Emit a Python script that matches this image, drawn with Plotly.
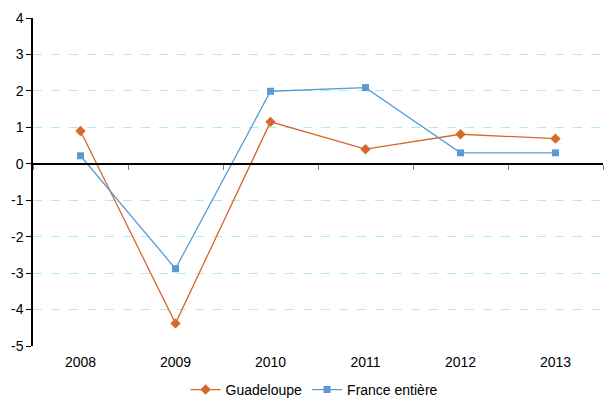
import plotly.graph_objects as go

years = ["2008", "2009", "2010", "2011", "2012", "2013"]
guadeloupe = [0.9, -4.38, 1.15, 0.4, 0.81, 0.69]
france = [0.22, -2.88, 1.99, 2.09, 0.3, 0.3]
y_ticks = [4, 3, 2, 1, 0, -1, -2, -3, -4, -5]
y_tick_text = ["4", "3", "2", "1", "0", "-1", "-2", "-3", "-4", "-5"]

orange = "#D4692A"
blue = "#5B9BD5"

fig = go.Figure()
fig.add_trace(go.Scatter(x=years, y=guadeloupe, name="Guadeloupe", mode="lines+markers",
                         line=dict(color=orange, width=1.3),
                         marker=dict(symbol="diamond", size=8, color=orange)))
fig.add_trace(go.Scatter(x=years, y=france, name="France entière", mode="lines+markers",
                         line=dict(color=blue, width=1.3),
                         marker=dict(symbol="square", size=7, color=blue)))
# helper invisible trace to draw the zero-line axis with tick marks
fig.add_trace(go.Scatter(x=years, y=[None]*len(years), xaxis="x2", showlegend=False, hoverinfo="skip"))

fig.update_layout(
    width=604, height=398,
    margin=dict(l=33, r=1, t=18, b=52, autoexpand=False),
    paper_bgcolor="white", plot_bgcolor="white",
    font=dict(family="Liberation Sans, Arial, sans-serif", size=14, color="#000"),
    showlegend=True,
    legend=dict(orientation="h", x=0.52, xanchor="center", xref="container",
                y=-0.134, yanchor="middle", yref="paper",
                font=dict(size=14), tracegroupgap=0),
    xaxis=dict(type="category", showgrid=False, showline=False, ticks="",
               zeroline=False, tickfont=dict(size=14), range=[-0.5, 5.5],
               ticklabelstandoff=6),
    xaxis2=dict(type="category", overlaying="x", anchor="free", position=5/9,
                showline=True, linecolor="#000", linewidth=1.5, ticks="outside",
                tickson="boundaries", ticklen=5, tickcolor="#808080", showticklabels=False,
                showgrid=False, zeroline=False, range=[-0.5, 5.5], side="bottom"),
    yaxis=dict(range=[-5, 4], tickvals=y_ticks, ticktext=y_tick_text, showline=True,
               linecolor="#000", linewidth=1.5,
               ticks="outside", ticklen=5, tickcolor="#000", showgrid=True,
               gridcolor="#A6EEFA", griddash="dash", gridwidth=1, zeroline=False,
               tickfont=dict(size=14)),
)

fig.write_html("out.html")
